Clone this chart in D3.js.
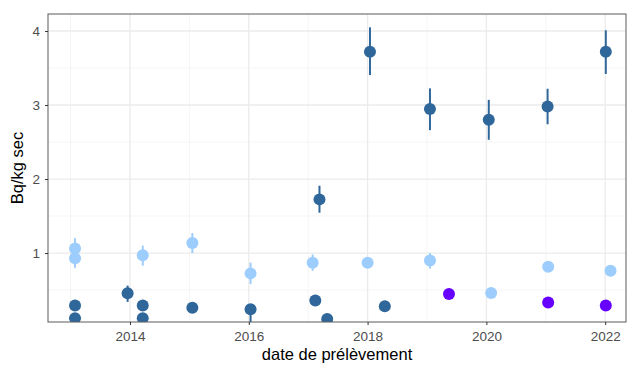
<!DOCTYPE html>
<html><head><meta charset="utf-8">
<script src="https://cdn.jsdelivr.net/npm/d3@7"></script>
<style>body{margin:0;background:#fff}svg{display:block}</style>
</head><body><svg id="c" width="636" height="365"></svg>
<script>
// Data (decimal year, value, lower, upper)
const darkYears = [2013.075, 2013.075, 2013.96, 2014.215, 2014.215, 2015.05, 2016.03, 2017.12, 2017.19, 2017.32, 2018.04, 2018.29, 2019.05, 2020.04, 2021.03, 2022.01];
const darkVals  = [0.29, 0.12, 0.455, 0.29, 0.12, 0.26, 0.24, 0.36, 1.725, 0.11, 3.72, 0.28, 2.946, 2.80, 2.98, 3.72];
const darkLow   = [0.29, 0.12, 0.34, 0.29, 0.12, 0.26, 0.04, 0.36, 1.545, 0.11, 3.405, 0.28, 2.66, 2.53, 2.74, 3.42];
const darkHigh  = [0.29, 0.12, 0.56, 0.29, 0.12, 0.26, 0.24, 0.36, 1.91, 0.11, 4.05, 0.28, 3.225, 3.07, 3.22, 4.01];

const lightYears = [2013.075, 2013.075, 2014.215, 2015.05, 2016.03, 2017.075, 2018.0, 2019.05, 2020.08, 2021.04, 2022.09];
const lightVals  = [1.06, 0.93, 0.97, 1.135, 0.725, 0.87, 0.87, 0.90, 0.46, 0.815, 0.76];
const lightLow   = [0.93, 0.80, 0.83, 1.0, 0.58, 0.76, 0.82, 0.79, 0.44, 0.78, 0.72];
const lightHigh  = [1.20, 1.06, 1.10, 1.27, 0.87, 0.98, 0.92, 1.00, 0.48, 0.85, 0.80];

const purpleYears = [2019.37, 2021.04, 2022.01];
const purpleVals  = [0.446, 0.33, 0.29];

const xTicks = [2014, 2016, 2018, 2020, 2022];
const xMinor = [2013, 2015, 2017, 2019, 2021];
const yTicks = [1, 2, 3, 4];
const yMinor = [0.5, 1.5, 2.5, 3.5];

const series = [
  {years: darkYears, vals: darkVals, low: darkLow, high: darkHigh, color: "#30679A"},
  {years: lightYears, vals: lightVals, low: lightLow, high: lightHigh, color: "#9DCDFD"},
  {years: purpleYears, vals: purpleVals, low: purpleVals, high: purpleVals, color: "#6600FF"}
];

const L = 48, R = 626, T = 14, B = 322;
const x = d3.scaleLinear().domain([2012.62, 2022.35]).range([L, R]);
const y = d3.scaleLinear().domain([0.068, 4.23]).range([B, T]);

const svg = d3.select("#c");
svg.append("defs").append("clipPath").attr("id","clip")
  .append("rect").attr("x",L).attr("y",T).attr("width",R-L).attr("height",B-T);

// grid
const g = svg.append("g");
g.selectAll(".vmin").data(xMinor).join("line")
  .attr("x1",d=>x(d)).attr("x2",d=>x(d)).attr("y1",T).attr("y2",B)
  .attr("stroke","#F2F2F2").attr("stroke-width",0.8);
g.selectAll(".hmin").data(yMinor).join("line")
  .attr("y1",d=>y(d)).attr("y2",d=>y(d)).attr("x1",L).attr("x2",R)
  .attr("stroke","#F2F2F2").attr("stroke-width",0.8);
g.selectAll(".vmaj").data(xTicks).join("line")
  .attr("x1",d=>x(d)).attr("x2",d=>x(d)).attr("y1",T).attr("y2",B)
  .attr("stroke","#EBEBEB").attr("stroke-width",1.3);
g.selectAll(".hmaj").data(yTicks).join("line")
  .attr("y1",d=>y(d)).attr("y2",d=>y(d)).attr("x1",L).attr("x2",R)
  .attr("stroke","#EBEBEB").attr("stroke-width",1.3);

// marks
const m = svg.append("g").attr("clip-path","url(#clip)");
series.forEach(s => {
  const data = s.years.map((yr,i)=>({yr, v:s.vals[i], lo:s.low[i], hi:s.high[i]}));
  m.append("g").selectAll("line").data(data.filter(d=>d.hi>d.lo)).join("line")
    .attr("x1",d=>x(d.yr)).attr("x2",d=>x(d.yr))
    .attr("y1",d=>y(d.lo)).attr("y2",d=>y(d.hi))
    .attr("stroke",s.color).attr("stroke-width",2);
  m.append("g").selectAll("circle").data(data).join("circle")
    .attr("cx",d=>x(d.yr)).attr("cy",d=>y(d.v)).attr("r",6)
    .attr("fill",s.color);
});

// border
svg.append("rect").attr("x",L).attr("y",T).attr("width",R-L).attr("height",B-T)
  .attr("fill","none").attr("stroke","#5a5a5a").attr("stroke-width",1);

// axes
const font = "'Liberation Sans', Arial, sans-serif";
const xa = svg.append("g").attr("transform",`translate(0,${B})`)
  .call(d3.axisBottom(x).tickValues(xTicks).tickFormat(d3.format("d")).tickSize(3).tickPadding(6));
const ya = svg.append("g").attr("transform",`translate(${L},0)`)
  .call(d3.axisLeft(y).tickValues(yTicks).tickFormat(d3.format("d")).tickSize(3).tickPadding(5));
[xa, ya].forEach(a => {
  a.select(".domain").remove();
  a.selectAll(".tick line").attr("stroke","#333");
  a.selectAll(".tick text").attr("fill","#4D4D4D").style("font-family",font).style("font-size","13.5px");
});

svg.append("text").attr("x",(L+R)/2).attr("y",360).attr("text-anchor","middle")
  .style("font-family",font).style("font-size","16.5px").attr("fill","#000").text("date de prélèvement");
svg.append("text").attr("transform",`translate(23,${(T+B)/2}) rotate(-90)`).attr("text-anchor","middle")
  .style("font-family",font).style("font-size","16.5px").attr("fill","#000").text("Bq/kg sec");
</script></body></html>
